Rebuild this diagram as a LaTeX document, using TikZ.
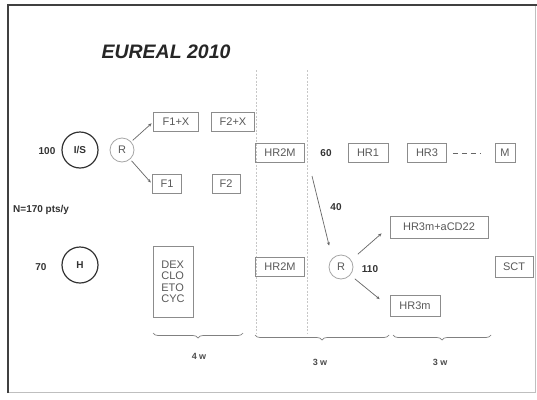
\documentclass[tikz,border=0pt]{standalone}
\usepackage{fontspec}
\setmainfont{Liberation Sans}
\usetikzlibrary{arrows.meta,decorations.pathreplacing}
\begin{document}
\begin{tikzpicture}[x=1pt,y=-1pt,
  box/.style={draw=black!45,line width=0.8pt,text=black!65,font=\fontsize{11}{12}\selectfont,inner sep=0pt,minimum height=19pt},
  bigcirc/.style={circle,draw=black!80,line width=1.2pt,minimum size=36pt,inner sep=0pt,text=black!80,font=\bfseries\fontsize{10}{12}\selectfont},
  rcirc/.style={circle,draw=black!35,line width=0.8pt,minimum size=24pt,inner sep=0pt,text=black!65,font=\fontsize{11}{12}\selectfont},
  num/.style={font=\bfseries\fontsize{10}{12}\selectfont,text=black!80,inner sep=0pt},
  arr/.style={draw=black!60,line width=0.7pt,-{Stealth[length=3.5pt,width=3pt]}},
  vline/.style={draw=black!22,line width=0.6pt,dash pattern=on 2pt off 1.5pt},
  brc/.style={draw=black!50,line width=0.7pt,decorate,decoration={brace,mirror,amplitude=5pt}},
  wlab/.style={font=\bfseries\fontsize{9}{11}\selectfont,text=black!70,inner sep=0pt}
]
\useasboundingbox (0,0) rectangle (537,399);
\fill[white] (0,0) rectangle (537,399);
% frame
\draw[black!25,line width=1pt] (8,392) -- (535,392) -- (535,5);
\draw[black!75,line width=1.8pt] (8,393) -- (8,5) -- (537,5);
% title
\node[font=\bfseries\itshape\fontsize{19.5}{23}\selectfont,text=black!85] (title) at (166,52) {EUREAL 2010};
% vertical separators
\coordinate (v1t) at (256,70); \coordinate (v1b) at (256,334);
\coordinate (v2t) at (307,70); \coordinate (v2b) at (307,334);
\draw[vline] (v1t) -- (v1b);
\draw[vline] (v2t) -- (v2b);
% left side
\node[num] (n100) at (47,151) {100};
\node[bigcirc] (IS) at (80,150) {I/S};
\node[rcirc] (R1) at (122,150) {R};
\node[box,minimum width=45pt] (F1X) at (176,122) {F1+X};
\node[box,minimum width=43pt] (F2X) at (233,122) {F2+X};
\node[box,minimum width=29pt] (F1) at (167,184) {F1};
\node[box,minimum width=28pt] (F2) at (226,184) {F2};
\draw[arr,shorten <=2pt,shorten >=2pt] (R1) -- (F1X.west);
\draw[arr,shorten <=2pt,shorten >=2pt] (R1) -- (F1.west);
\node[num,anchor=west] (N) at (13,210) {N=170 pts/y};
\node[num] (n70) at (41,267) {70};
\node[bigcirc] (H) at (80,265) {H};
\node[box,minimum width=40pt,minimum height=71pt,align=left,font=\fontsize{11}{11.5}\selectfont] (drugs) at (173,282) {DEX\\CLO\\ETO\\CYC};
% middle
\node[box,minimum width=49pt] (HR2Ma) at (280,153) {HR2M};
\node[num] (n60) at (326,153) {60};
\node[box,minimum width=40pt] (HR1) at (368,153) {HR1};
\node[box,minimum width=39pt] (HR3) at (427,153) {HR3};
\node[box,minimum width=20pt] (M) at (505,153) {M};
\draw[black!60,line width=0.8pt,dash pattern=on 5pt off 4pt] (HR3.east) ++(6,0) coordinate (d1) -- ([xshift=-14pt]M.west) coordinate (d2);
\node[box,minimum width=49pt] (HR2Mb) at (280,267) {HR2M};
\node[rcirc] (R2) at (341,267) {R};
\coordinate (a40s) at (312,176);
\draw[arr,shorten >=13pt] (a40s) -- (R2.north west);
\node[num] (n40) at (336,207) {40};
\node[num] (n110) at (370,269) {110};
\node[box,minimum width=98pt,minimum height=22pt] (HR3mA) at (439,227) {HR3m+aCD22};
\node[box,minimum width=50pt,minimum height=21pt] (HR3m) at (415,306) {HR3m};
\node[box,minimum width=38pt,minimum height=21pt] (SCT) at (514,267) {SCT};
\draw[arr] ([shift={(8,-4)}]R2.north east) -- ([shift={(-8,-5)}]HR3mA.south west);
\draw[arr] ([shift={(5,3)}]R2.south east) -- ([shift={(-10,4)}]HR3m.north west);
% braces
\coordinate (b1l) at (153,333); \coordinate (b1r) at (243,333);
\coordinate (b2l) at (255,335); \coordinate (b2r) at (389,335);
\coordinate (b3l) at (393,335); \coordinate (b3r) at (491,335);
\draw[brc] (b1l) -- (b1r);
\draw[brc] (b2l) -- (b2r);
\draw[brc] (b3l) -- (b3r);
\node[wlab] (w4) at (199,356) {4 w};
\node[wlab] (w3a) at (320,362) {3 w};
\node[wlab] (w3b) at (440,362) {3 w};
\end{tikzpicture}
\end{document}
